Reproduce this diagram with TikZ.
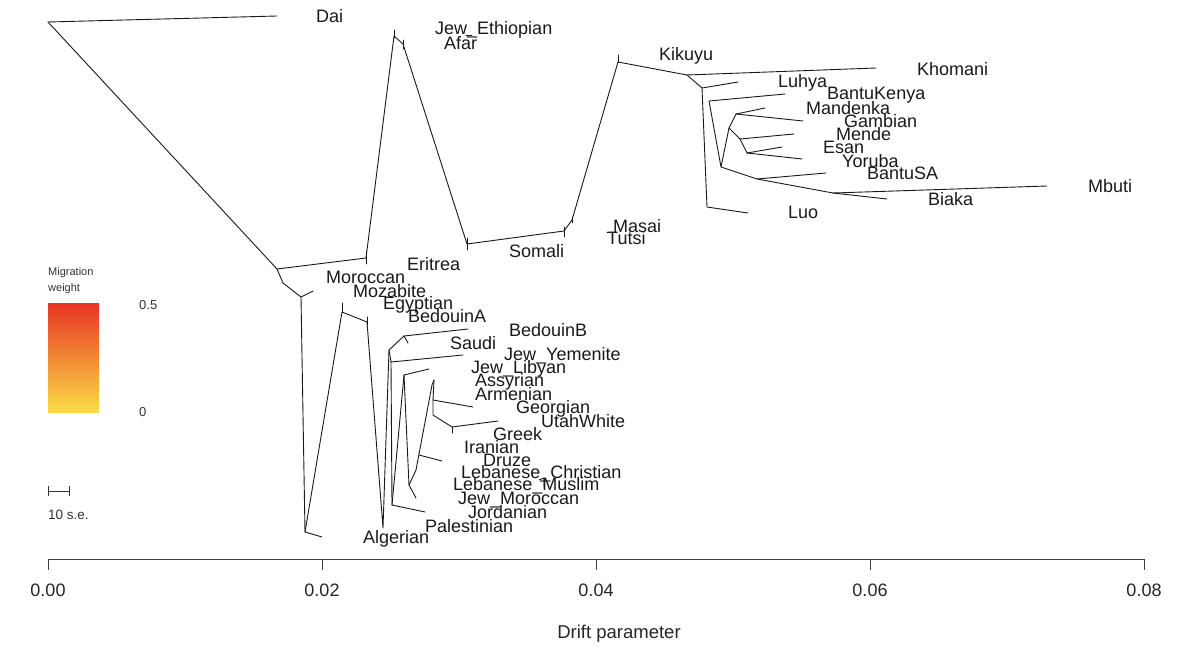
\documentclass[tikz,border=0pt]{standalone}
\usepackage{fontspec}
\setmainfont{Liberation Sans}
\begin{document}
\begin{tikzpicture}[x=1pt,y=-1pt,
  br/.style={line width=0.9pt, line cap=round, line join=round, draw=black!90},
  lab/.style={anchor=base west, inner sep=0pt, font=\fontsize{18}{20}\selectfont, yshift=-6.5pt, text=black!90},
  axlab/.style={anchor=center, inner sep=0pt, font=\fontsize{18}{20}\selectfont, text=black!85},
  leg/.style={anchor=base west, inner sep=0pt, text=black!80}]
\useasboundingbox (0,0) rectangle (1200,651);
% ---------- coordinates (top part) ----------
\coordinate (root) at (48,22);
\coordinate (daiT) at (277,16);
\coordinate (n1) at (277,269);
\coordinate (n2) at (366,258);
\coordinate (n3) at (394,36);
\coordinate (n4) at (403,44);
\coordinate (n5) at (467,244);
\coordinate (n6) at (564,231);
\coordinate (n7) at (572,220);
\coordinate (n8) at (618,62);
\coordinate (n9) at (687,75);
\coordinate (khoT) at (876,68);
\coordinate (n10) at (702,88);
\coordinate (luhT) at (738,82);
\coordinate (n11) at (707,207);
\coordinate (luoT) at (748,213);
\coordinate (bkT) at (785,94);
\coordinate (n12) at (709,101);
\coordinate (n13) at (721,167);
\coordinate (n14) at (729,128);
\coordinate (n15) at (736,114);
\coordinate (manT) at (765,108);
\coordinate (gamT) at (803,121);
\coordinate (n16) at (740,139);
\coordinate (menT) at (794,134);
\coordinate (n17) at (747,153);
\coordinate (esaT) at (782,147);
\coordinate (yorT) at (802,159);
\coordinate (n18) at (757,179);
\coordinate (bsaT) at (826,173);
\coordinate (n19) at (833,193);
\coordinate (mbuT) at (1047,186);
\coordinate (biaT) at (887,199);
\coordinate (masA) at (607,232);
\coordinate (masB) at (615,232);
\coordinate (afA) at (466,35);
\coordinate (afB) at (472,35);
% ---------- coordinates (lower part) ----------
\coordinate (m1) at (283,283);
\coordinate (m2) at (301,297);
\coordinate (morT) at (313,291);
\coordinate (m3) at (305,532);
\coordinate (m3T) at (322,537);
\coordinate (m4) at (342,312);
\coordinate (m5) at (367,322);
\coordinate (m6) at (383,528);
\coordinate (m7) at (389,350);
\coordinate (m8) at (404,336);
\coordinate (bbT) at (468,329);
\coordinate (baT) at (408,343);
\coordinate (m9) at (391,362);
\coordinate (sauT) at (463,355);
\coordinate (m10) at (392,505);
\coordinate (palT) at (425,512);
\coordinate (m11) at (404,375);
\coordinate (jlT) at (429,369);
\coordinate (m12) at (409,485);
\coordinate (jmT) at (416,498);
\coordinate (m13) at (416,470);
\coordinate (m14) at (432,385);
\coordinate (m14b) at (434,380);
\coordinate (m15) at (433,400);
\coordinate (geoT) at (473,407);
\coordinate (m16) at (433,415);
\coordinate (m17) at (452,427);
\coordinate (utaT) at (498,421);
\coordinate (m18) at (419,455);
\coordinate (druT) at (442,461);
\coordinate (lmA) at (539,480);
\coordinate (lmB) at (544,478);
\coordinate (lmC) at (544,487);
% ---------- tree ----------
\draw[br] (root) -- (daiT);
\draw[br] (root) -- (n1) -- (n2) -- (n3) -- (n4) -- (n5) -- (n6) -- (n7) -- (n8) -- (n9) -- (khoT);
\draw[br] (n9) -- (n10) -- (luhT);
\draw[br] (n10) -- (n11) -- (luoT);
\draw[br] (bkT) -- (n12) -- (n13) -- (n14) -- (n15) -- (manT);
\draw[br] (n15) -- (gamT);
\draw[br] (n14) -- (n16) -- (n17) -- (esaT);
\draw[br] (n16) -- (menT);
\draw[br] (n17) -- (yorT);
\draw[br] (n13) -- (n18) -- (bsaT);
\draw[br] (n18) -- (n19) -- (mbuT);
\draw[br] (n19) -- (biaT);
\draw[br] (masA) -- (masB);
\draw[br] (afA) -- (afB);
% ticks
\draw[br] (n2) ++(0,-7) -- ++(0,13);
\draw[br] (n3) ++(0,-6) -- ++(0,8);
\draw[br] (n4) ++(0,-4) -- ++(0,9);
\draw[br] (n5) ++(0,-6) -- ++(0,12);
\draw[br] (n6) ++(0,-4) -- ++(0,10);
\draw[br] (n7) ++(0,-3) -- ++(0,6);
\draw[br] (n8) ++(0,-7) -- ++(0,7);
% lower part
\draw[br] (n1) -- (m1) -- (m2) -- (morT);
\draw[br] (m2) -- (m3) -- (m3T);
\draw[br] (m3) -- (m4) -- (m5) -- (m6) -- (m7) -- (m8) -- (bbT);
\draw[br] (m8) -- (baT);
\draw[br] (m7) -- (m9) -- (sauT);
\draw[br] (m9) -- (m10) -- (palT);
\draw[br] (m10) -- (m11) -- (jlT);
\draw[br] (m11) -- (m12) -- (jmT);
\draw[br] (m12) -- (m13) -- (m14) -- (m14b);
\draw[br] (m14b) -- (m15) -- (geoT);
\draw[br] (m15) -- (m16) -- (m17) -- (utaT);
\draw[br] (m18) -- (druT);
\draw[br] (lmA) -- (lmB) -- (lmC);
\draw[br] (m4) ++(0,-9) -- ++(0,9);
\draw[br] (m5) ++(0,-5) -- ++(0,8);
\draw[br] (m17) -- ++(0,6);
% ---------- labels ----------
\node[lab] (Dai) at (316,16) {Dai};
\node[lab] (JewEth) at (435,28) {Jew\_Ethiopian};
\node[lab] (Afar) at (444,43) {Afar};
\node[lab] (Kikuyu) at (659,54) {Kikuyu};
\node[lab] (Khomani) at (917,69) {Khomani};
\node[lab] (Luhya) at (778,81) {Luhya};
\node[lab] (BantuKenya) at (827,93) {BantuKenya};
\node[lab] (Mandenka) at (806,108) {Mandenka};
\node[lab] (Gambian) at (844,121) {Gambian};
\node[lab] (Mende) at (836,134) {Mende};
\node[lab] (Esan) at (823,147) {Esan};
\node[lab] (Yoruba) at (842,161) {Yoruba};
\node[lab] (BantuSA) at (867,173) {BantuSA};
\node[lab] (Mbuti) at (1088,186) {Mbuti};
\node[lab] (Biaka) at (928,199) {Biaka};
\node[lab] (Luo) at (788,212) {Luo};
\node[lab] (Masai) at (613,226) {Masai};
\node[lab] (Tutsi) at (607,238) {Tutsi};
\node[lab] (Somali) at (509,251) {Somali};
\node[lab] (Eritrea) at (407,264) {Eritrea};
\node[lab] (Moroccan) at (326,277) {Moroccan};
\node[lab] (Mozabite) at (353,291) {Mozabite};
\node[lab] (Egyptian) at (383,303) {Egyptian};
\node[lab] (BedouinA) at (408,316) {BedouinA};
\node[lab] (BedouinB) at (509,330) {BedouinB};
\node[lab] (Saudi) at (450,343) {Saudi};
\node[lab] (JewYem) at (504,354) {Jew\_Yemenite};
\node[lab] (JewLib) at (471,367) {Jew\_Libyan};
\node[lab] (Assyrian) at (475,380) {Assyrian};
\node[lab] (Armenian) at (475,394) {Armenian};
\node[lab] (Georgian) at (516,407) {Georgian};
\node[lab] (UtahWhite) at (541,421) {UtahWhite};
\node[lab] (Greek) at (493,434) {Greek};
\node[lab] (Iranian) at (464,447) {Iranian};
\node[lab] (Druze) at (483,460) {Druze};
\node[lab] (LebChr) at (461,472) {Lebanese\_Christian};
\node[lab] (LebMus) at (453,484) {Lebanese\_Muslim};
\node[lab] (JewMor) at (458,498) {Jew\_Moroccan};
\node[lab] (Jordanian) at (468,512) {Jordanian};
\node[lab] (Palestinian) at (425,526) {Palestinian};
\node[lab] (Algerian) at (363,537) {Algerian};
% ---------- legend ----------
\node[leg, font=\fontsize{11}{12}\selectfont] (mw1) at (48,275) {Migration};
\node[leg, font=\fontsize{11}{12}\selectfont] (mw2) at (48,291) {weight};
\shade[top color={rgb,255:red,232;green,52;blue,36}, middle color={rgb,255:red,238;green,125;blue,50}, bottom color={rgb,255:red,250;green,220;blue,70}] (48,303) rectangle (99,412);
\node[leg, font=\fontsize{13}{14}\selectfont] (l05) at (139,309) {0.5};
\node[leg, font=\fontsize{13}{14}\selectfont] (l0) at (139,416) {0};
\coordinate (sbA) at (48,491);
\coordinate (sbB) at (69,491);
\draw[line width=0.8pt, black!80] (sbA) -- (sbB);
\draw[line width=0.8pt, black!80] (sbA) ++(0,-5) -- ++(0,10);
\draw[line width=0.8pt, black!80] (sbB) ++(0,-5) -- ++(0,10);
\node[leg, font=\fontsize{13.5}{14}\selectfont] (se) at (48,519) {10 s.e.};
% ---------- axis ----------
\coordinate (ax0) at (48,559);
\coordinate (ax1) at (1144,559);
\draw[line width=0.9pt, black!75] (ax0) -- (ax1);
\foreach \i/\t in {0/0.00,1/0.02,2/0.04,3/0.06,4/0.08} {
  \draw[line width=0.8pt, black!75] (48+274*\i,559) -- (48+274*\i,570);
  \node[axlab] (tick\i) at (48+274*\i,590) {\t};
}
\node[axlab, font=\fontsize{18.5}{20}\selectfont] (xlabel) at (619,634) {Drift parameter};
\end{tikzpicture}
\end{document}
